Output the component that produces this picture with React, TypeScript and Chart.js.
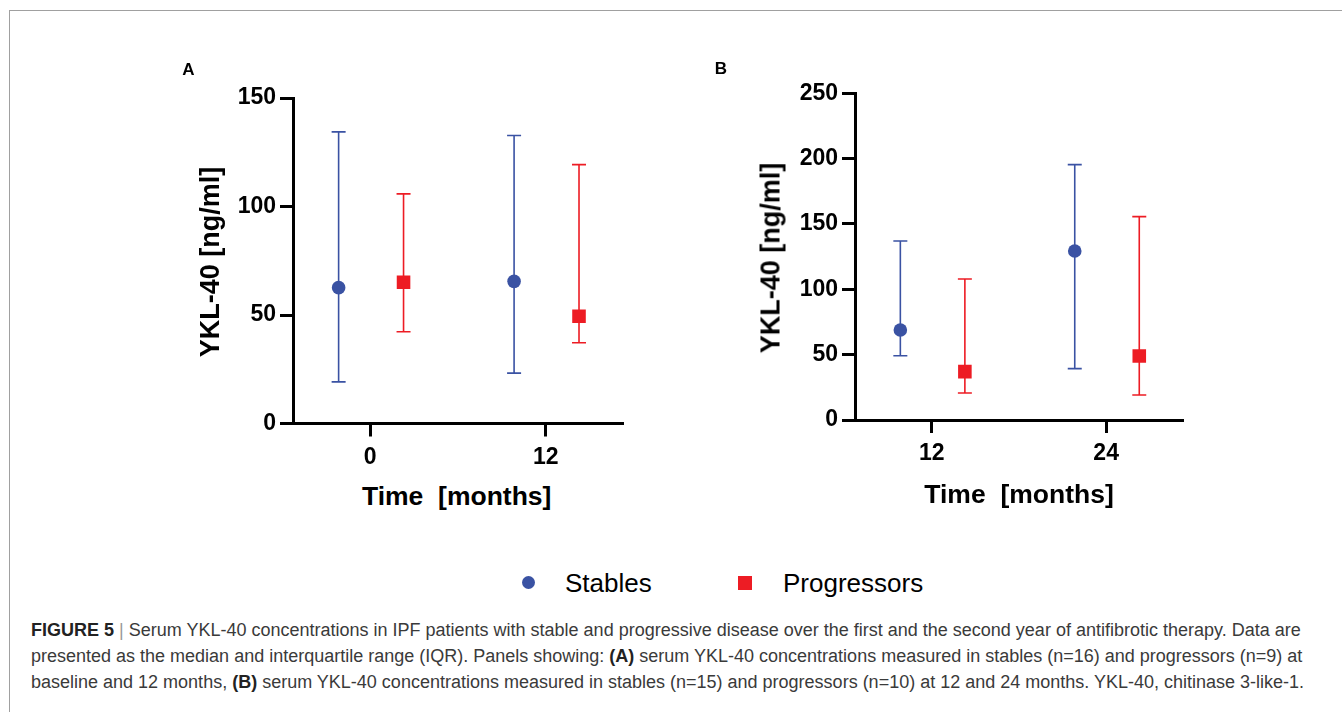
import React, { useEffect, useRef } from 'react';
import { Chart, registerables } from 'chart.js';

Chart.register(...registerables);

// ---------- data ----------
const seriesNames = ['Stables', 'Progressors'];
const seriesColors = ['#3A52A3', '#ED1C24'];

const panelATimes = ['0', '12'];
const panelAYTicks = [0, 50, 100, 150];
const panelAStablesMedian = [62.6, 65.5];
const panelAStablesLow = [19.2, 23.2];
const panelAStablesHigh = [134.4, 132.7];
const panelAProgMedian = [65.1, 49.4];
const panelAProgLow = [42.3, 37.2];
const panelAProgHigh = [105.8, 119.3];

const panelBTimes = ['12', '24'];
const panelBYTicks = [0, 50, 100, 150, 200, 250];
const panelBStablesMedian = [68.9, 129.3];
const panelBStablesLow = [49.2, 39.3];
const panelBStablesHigh = [137.0, 195.4];
const panelBProgMedian = [37.0, 49.0];
const panelBProgLow = [20.7, 19.1];
const panelBProgHigh = [107.9, 155.6];

// ---------- styling ----------
const FONT = "'Liberation Sans', Arial, Helvetica, sans-serif";
const DODGE = [-0.18, 0.19];
const CAP_HALF = 7;

const errorBarPlugin = {
  id: 'errorBars',
  beforeDatasetsDraw(chart: any) {
    const { ctx } = chart;
    const x = chart.scales.x;
    const y = chart.scales.y;
    ctx.save();
    chart.data.datasets.forEach((ds: any) => {
      ds.data.forEach((pt: any, i: number) => {
        const px = x.getPixelForValue(pt.x);
        const lo = y.getPixelForValue(ds.errLow[i]);
        const hi = y.getPixelForValue(ds.errHigh[i]);
        ctx.strokeStyle = ds.backgroundColor;
        ctx.lineWidth = 1.6;
        ctx.beginPath();
        ctx.moveTo(px, lo);
        ctx.lineTo(px, hi);
        ctx.moveTo(px - CAP_HALF, lo);
        ctx.lineTo(px + CAP_HALF, lo);
        ctx.moveTo(px - CAP_HALF, hi);
        ctx.lineTo(px + CAP_HALF, hi);
        ctx.stroke();
      });
    });
    ctx.restore();
  },
};

type PanelProps = {
  times: string[];
  yTicks: number[];
  medians: number[][];
  lows: number[][];
  highs: number[][];
  width: number;
  height: number;
  axisWidth: number;
  axisHeight: number;
  padTop: number;
  padRight: number;
};

function Panel(p: PanelProps) {
  const ref = useRef<HTMLCanvasElement>(null);
  useEffect(() => {
    if (!ref.current) return;
    const datasets = seriesNames.map((name, s) => ({
      label: name,
      data: p.times.map((_, i) => ({ x: i + DODGE[s], y: p.medians[s][i] })),
      errLow: p.lows[s],
      errHigh: p.highs[s],
      backgroundColor: seriesColors[s],
      borderWidth: 0,
      pointStyle: s === 0 ? 'circle' : 'rect',
      pointRadius: s === 0 ? 6.8 : 9.6,
      pointHoverRadius: s === 0 ? 6.8 : 9.6,
      showLine: false,
    }));
    const gridCommon = {
      drawOnChartArea: false,
      drawTicks: true,
      tickLength: 13,
      color: '#000',
      lineWidth: 3,
    };
    const chart = new Chart(ref.current, {
      type: 'scatter',
      data: { datasets } as any,
      options: {
        animation: false,
        responsive: false,
        devicePixelRatio: 1,
        layout: { padding: { top: p.padTop, right: p.padRight, left: 0, bottom: 0 } },
        plugins: { legend: { display: false }, tooltip: { enabled: false } },
        scales: {
          x: {
            type: 'linear',
            min: -0.44,
            max: 1.435,
            afterBuildTicks: (sc: any) => {
              sc.ticks = p.times.map((_, i) => ({ value: i }));
            },
            afterFit: (sc: any) => {
              sc.height = p.axisHeight;
            },
            ticks: {
              callback: (v: any) => p.times[v as number] ?? '',
              color: '#000',
              font: { family: FONT, size: 23, weight: 'bold' },
              padding: 7,
              maxRotation: 0,
            },
            grid: gridCommon,
            border: { display: true, color: '#000', width: 3 },
          },
          y: {
            type: 'linear',
            min: p.yTicks[0],
            max: p.yTicks[p.yTicks.length - 1],
            afterBuildTicks: (sc: any) => {
              sc.ticks = p.yTicks.map((v) => ({ value: v }));
            },
            afterFit: (sc: any) => {
              sc.width = p.axisWidth;
            },
            ticks: {
              color: '#000',
              font: { family: FONT, size: 23, weight: 'bold' },
              padding: 4,
            },
            grid: gridCommon,
            border: { display: true, color: '#000', width: 3 },
          },
        },
      } as any,
      plugins: [errorBarPlugin],
    });
    return () => chart.destroy();
  }, []);
  return <canvas ref={ref} width={p.width} height={p.height} style={{ width: p.width, height: p.height, display: 'block' }} />;
}

const abs = (left: number, top: number, extra: React.CSSProperties = {}): React.CSSProperties => ({
  position: 'absolute',
  left,
  top,
  ...extra,
});

const centered = (cx: number, cy: number, extra: React.CSSProperties = {}): React.CSSProperties => ({
  position: 'absolute',
  left: cx,
  top: cy,
  transform: 'translate(-50%, -50%)',
  whiteSpace: 'pre',
  fontFamily: FONT,
  lineHeight: 1,
  ...extra,
});

export default function App() {
  const yTitle = 'YKL-40 [ng/ml]';
  const xTitle = 'Time  [months]';
  return (
    <div
      style={{
        position: 'fixed',
        left: 0,
        top: 0,
        width: 1342,
        height: 712,
        overflow: 'hidden',
        background: '#fff',
        fontFamily: FONT,
        color: '#000',
      }}
    >
      <div
        style={abs(9, 10, {
          width: 2000,
          height: 2000,
          borderTop: '1px solid #a0a0a0',
          borderLeft: '1px solid #a0a0a0',
        })}
      />

      <div style={abs(150, 40)}>
        <Panel
          times={panelATimes}
          yTicks={panelAYTicks}
          medians={[panelAStablesMedian, panelAProgMedian]}
          lows={[panelAStablesLow, panelAProgLow]}
          highs={[panelAStablesHigh, panelAProgHigh]}
          width={500}
          height={440}
          axisWidth={143}
          axisHeight={440 - 383.5}
          padTop={58}
          padRight={28}
        />
      </div>
      <div style={abs(710, 40)}>
        <Panel
          times={panelBTimes}
          yTicks={panelBYTicks}
          medians={[panelBStablesMedian, panelBProgMedian]}
          lows={[panelBStablesLow, panelBProgLow]}
          highs={[panelBStablesHigh, panelBProgHigh]}
          width={500}
          height={440}
          axisWidth={145}
          axisHeight={440 - 380}
          padTop={53.3}
          padRight={28}
        />
      </div>

      <div style={centered(188.5, 68.5, { fontSize: 17, fontWeight: 'bold' })}>A</div>
      <div style={centered(721, 67.5, { fontSize: 17, fontWeight: 'bold' })}>B</div>

      <div style={centered(209.7, 261.5, { fontSize: 27, fontWeight: 'bold', transform: 'translate(-50%, -50%) rotate(-90deg)' })}>
        {yTitle}
      </div>
      <div style={centered(771, 258, { fontSize: 27, fontWeight: 'bold', transform: 'translate(-50%, -50%) rotate(-90deg)' })}>
        {yTitle}
      </div>
      <div style={centered(456.7, 496, { fontSize: 26.5, fontWeight: 'bold' })}>{xTitle}</div>
      <div style={centered(1019, 494, { fontSize: 26.5, fontWeight: 'bold' })}>{xTitle}</div>

      {/* legend */}
      <div
        style={abs(522, 576.2, {
          width: 13,
          height: 13,
          borderRadius: '50%',
          background: seriesColors[0],
        })}
      />
      <div style={abs(565, 583, { fontSize: 26, transform: 'translateY(-50%)', lineHeight: 1, whiteSpace: 'pre' })}>
        {seriesNames[0]}
      </div>
      <div style={abs(738, 575.5, { width: 14, height: 14, background: seriesColors[1] })} />
      <div style={abs(783, 583, { fontSize: 26, transform: 'translateY(-50%)', lineHeight: 1, whiteSpace: 'pre' })}>
        {seriesNames[1]}
      </div>

      {/* caption */}
      <div
        style={abs(31, 617, {
          fontSize: 18,
          lineHeight: '26px',
          color: '#3a3a3a',
          whiteSpace: 'pre',
        })}
      >
        <div>
          <b style={{ color: '#222' }}>FIGURE 5</b>
          <span style={{ color: '#999' }}> | </span>
          Serum YKL-40 concentrations in IPF patients with stable and progressive disease over the first and the second year of antifibrotic therapy. Data are
        </div>
        <div>
          presented as the median and interquartile range (IQR). Panels showing: <b style={{ color: '#222' }}>(A)</b> serum YKL-40 concentrations measured in stables (n=16) and progressors (n=9) at
        </div>
        <div>
          baseline and 12 months, <b style={{ color: '#222' }}>(B)</b> serum YKL-40 concentrations measured in stables (n=15) and progressors (n=10) at 12 and 24 months. YKL-40, chitinase 3-like-1.
        </div>
      </div>
    </div>
  );
}
